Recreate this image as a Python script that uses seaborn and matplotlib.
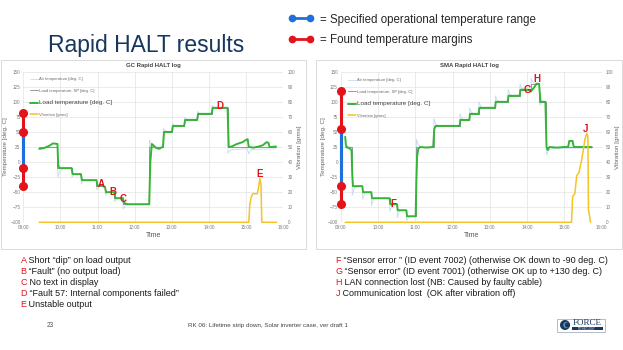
import matplotlib
matplotlib.use("Agg")
import matplotlib.pyplot as plt
import seaborn as sns
from matplotlib.lines import Line2D
from matplotlib.patches import Rectangle, Circle

# ---------------- data ----------------
time_ticks = [0, 1, 2, 3, 4, 5, 6, 7]
time_labels = ["09:00", "10:00", "11:00", "12:00", "13:00", "14:00", "15:00", "16:00"]
temp_ticks = [-100, -75, -50, -25, 0, 25, 50, 75, 100, 125, 150]
vib_ticks = [0, 10, 20, 30, 40, 50, 60, 70, 80, 90, 100]

series_labels = ["Air temperature [deg. C]", "Load temperature, SP [deg. C]",
                 "Load temperature [deg. C]", "Vibration [grms]"]
top_legend_labels = ["= Specified operational temperature range", "= Found temperature margins"]

# GC chart (hours after 09:00)
gc_load_t = [0.43, 0.55, 0.70, 0.80, 0.92, 0.94, 0.97, 1.30, 1.33, 1.55,
             1.58, 1.97, 2.00, 2.10, 2.20, 2.23, 2.45, 2.48, 2.68, 2.71,
             2.82, 3.00, 3.39, 3.42, 3.46, 3.50, 3.56, 3.65, 3.72, 3.76,
             3.79, 4.00, 4.03, 4.33, 4.36, 4.68, 4.71, 5.07, 5.10, 5.50,
             5.53, 5.62, 5.75, 5.90, 6.00, 6.04, 6.07, 6.20, 6.35, 6.45,
             6.55, 6.60, 6.63, 6.70, 6.80]
gc_load = [22, 23, 27, 31, 30, -5, -10, -10, -20, -20,
           -30, -30, -40, -38, -42, -50, -50, -60, -60, -68,
           -70, -70, -70, 0, 30, 28, 24, 22, 24, 25,
           50, 50, 60, 60, 70, 70, 80, 80, 90, 90,
           25, 26, 30, 33, 37, 38, 25, 24, 26, 28,
           33, 32, 25, 25, 26]
gc_sp_t = [0.43, 0.92, 0.92, 1.30, 1.30, 1.55, 1.55, 1.97, 1.97, 2.20, 2.20, 2.45, 2.45, 2.68, 2.68,
           3.39, 3.39, 3.76, 3.76, 4.00, 4.00, 4.33, 4.33, 4.68, 4.68, 5.07, 5.07, 5.50, 5.50, 6.80]
gc_sp = [25, 25, -10, -10, -20, -20, -30, -30, -40, -40, -50, -50, -60, -60, -70,
         -70, 25, 25, 50, 50, 60, 60, 70, 70, 80, 80, 90, 90, 25, 25]
gc_air_t = [0.43, 0.92,
            0.93, 0.98, 1.08, 1.30, 1.31, 1.36, 1.45, 1.55, 1.56, 1.61, 1.70, 1.97,
            1.98, 2.03, 2.12, 2.20, 2.21, 2.26, 2.35, 2.45, 2.46, 2.51, 2.60, 2.68,
            2.69, 2.75, 2.88, 3.39, 3.40, 3.45, 3.55, 3.76, 3.77, 3.82, 3.91, 4.00,
            4.01, 4.06, 4.15, 4.33, 4.34, 4.39, 4.48, 4.68, 4.69, 4.74, 4.83, 5.07,
            5.08, 5.13, 5.22, 5.50, 5.51, 5.58, 5.70, 6.04, 6.06, 6.15, 6.80]
gc_air = [24, 24,
          -25, -15, -11, -10, -25, -21, -20, -20, -36, -31, -30, -30,
          -46, -41, -40, -40, -55, -51, -50, -50, -66, -61, -60, -60,
          -78, -72, -70, -70, 37, 29, 25, 25, 56, 52, 50, 50,
          64, 61, 60, 60, 74, 71, 70, 70, 84, 81, 80, 80,
          94, 91, 90, 90, 15, 20, 21, 22, 14, 21, 22]
gc_vib_t = [0.43, 6.07, 6.10, 6.14, 6.18, 6.30, 6.34, 6.37, 6.40, 6.42, 6.82]
gc_vib = [0, 0, 12, 17, 19, 19, 24, 29, 25, 0, 0]
gc_spec = [-10, 50]
gc_margin = [-40, 82]
gc_temp_note_labels = ["A", "B", "C", "D"]
gc_temp_note_t = [2.11, 2.41, 2.69, 5.30]
gc_temp_note_val = [-37, -49, -61, 93]
gc_vib_note_labels = ["E"]
gc_vib_note_t = [6.37]
gc_vib_note_val = [32]

# SMA chart
sma_load_t = [0.12, 0.14, 0.17, 0.20, 0.25, 0.29, 0.31, 0.33, 0.58, 0.60,
              0.82, 0.84, 1.31, 1.33, 1.51, 1.53, 1.76, 1.78, 2.01, 2.03,
              2.05, 2.08, 2.13, 2.30, 2.48, 2.51, 2.55, 3.19, 3.21, 3.45,
              3.47, 3.70, 3.72, 4.14, 4.16, 4.48, 4.50, 4.80, 4.82, 5.05,
              5.10, 5.20, 5.25, 5.32, 5.36, 5.49, 5.52, 5.55, 5.60, 5.80,
              6.00, 6.10, 6.13, 6.22, 6.25, 6.40, 6.73]
sma_load = [42, 28, 24, 24, 22, 20, -20, -40, -40, -50,
            -50, -60, -60, -70, -70, -80, -80, -90, -90, -30,
            10, 22, 25, 24, 25, 55, 60, 60, 70, 70,
            80, 80, 90, 90, 100, 100, 110, 110, 120, 120,
            117, 125, 130, 130, 100, 100, 25, 20, 25, 24,
            25, 25, 35, 35, 25, 25, 25]
sma_sp_t = [0.12, 0.30, 0.30, 0.58, 0.58, 0.82, 0.82, 1.31, 1.31, 1.51, 1.51, 1.76, 1.76, 2.02, 2.02,
            2.49, 2.49, 3.19, 3.19, 3.45, 3.45, 3.70, 3.70, 4.14, 4.14, 4.48, 4.48, 4.80, 4.80,
            5.10, 5.10, 5.33, 5.33, 5.50, 5.50, 6.73]
sma_sp = [25, 25, -40, -40, -50, -50, -60, -60, -70, -70, -80, -80, -90, -90, 25,
          25, 60, 60, 70, 70, 80, 80, 90, 90, 100, 100, 110, 110, 120,
          120, 130, 130, 100, 100, 25, 25]
sma_air_t = [0.12, 0.30,
             0.31, 0.36, 0.45, 0.58, 0.59, 0.64, 0.72, 0.82, 0.83, 0.88, 0.97, 1.31,
             1.32, 1.37, 1.45, 1.51, 1.52, 1.57, 1.65, 1.76, 1.77, 1.82, 1.91, 2.02,
             2.03, 2.08, 2.17, 2.49, 2.50, 2.55, 2.64, 3.19, 3.20, 3.25, 3.34, 3.45,
             3.46, 3.51, 3.60, 3.70, 3.71, 3.76, 3.85, 4.14, 4.15, 4.20, 4.29, 4.48,
             4.49, 4.54, 4.63, 4.80, 4.81, 4.86, 4.95, 5.10, 5.11, 5.16, 5.25, 5.33,
             5.34, 5.40, 5.50, 5.52, 5.58, 5.70, 6.73]
sma_air = [25, 25,
           -55, -44, -40, -40, -62, -52, -50, -50, -72, -62, -60, -60,
           -82, -72, -70, -70, -92, -82, -80, -80, -97, -92, -90, -90,
           38, 28, 25, 25, 72, 63, 60, 60, 80, 72, 70, 70,
           90, 82, 80, 80, 100, 92, 90, 90, 110, 102, 100, 100,
           120, 112, 110, 110, 130, 122, 120, 120, 138, 132, 130, 130,
           95, 99, 100, 12, 20, 23, 23]
sma_vib_t = [0.12, 6.19, 6.22, 6.28, 6.33, 6.39, 6.46, 6.50, 6.55, 6.60, 6.63, 6.645, 6.67, 6.70]
sma_vib = [0, 0, 17, 19, 31, 33, 41, 47, 55, 59, 57, 8, 5, 0]
sma_spec = [-40, 55]
sma_margin = [-70, 118]
sma_temp_note_labels = ["F", "G", "H"]
sma_temp_note_t = [1.41, 5.00, 5.27]
sma_temp_note_val = [-70, 120, 138]
sma_vib_note_labels = ["J"]
sma_vib_note_t = [6.57]
sma_vib_note_val = [62]

gc_list_keys = ["A", "B", "C", "D", "E"]
gc_list_texts = ["Short \u201cdip\u201d on load output", "\u201cFault\u201d (no output load)",
                 "No text in display", "\u201cFault 57: Internal components failed\u201d",
                 "Unstable output"]
sma_list_keys = ["F", "G", "H", "J"]
sma_list_texts = ["\u201cSensor error \u201d (ID event 7002) (otherwise OK down to -90 deg. C)",
                  "\u201cSensor error\u201d (ID event 7001) (otherwise OK up to +130 deg. C)",
                  "LAN connection lost (NB: Caused by faulty cable)",
                  "Communication lost  (OK after vibration off)"]

# ---------------- style ----------------
sns.set_style("white")
plt.rcParams['font.family'] = ['Liberation Sans', 'DejaVu Sans']

C_AIR = '#c6daf0'
C_SP = '#7d8a99'
C_LOAD = '#35b535'
C_VIB = '#f5c325'
C_RED = '#e3131b'
C_BLUE = '#1f6fdc'
C_NAVY = '#17375e'

W, H = 623, 350
fig = plt.figure(figsize=(W / 100, H / 100), dpi=100)
fig.patch.set_facecolor('white')
bg = fig.add_axes([0, 0, 1, 1], zorder=-5)
bg.set_xlim(0, W)
bg.set_ylim(H, 0)
bg.axis('off')

# panels
bg.add_patch(Rectangle((0.5, 59.5), 305, 189.5, fc='white', ec='#d4d4d4', lw=0.6))
bg.add_patch(Rectangle((316, 59.5), 306, 189.5, fc='white', ec='#d4d4d4', lw=0.6))

# title + top legend
bg.text(47.7, 52, "Rapid HALT results", fontsize=16.5, color=C_NAVY, va='baseline')
tl_handles = [Line2D([], [], color=C_BLUE, lw=2.0, marker='o', ms=4.5),
              Line2D([], [], color=C_RED, lw=2.0, marker='o', ms=4.5)]
fig.legend(tl_handles, top_legend_labels, numpoints=2, loc='upper left',
           bbox_to_anchor=(289 / W, 1 - 13.5 / H), frameon=False, fontsize=8.3,
           handlelength=2.1, handletextpad=0.55, labelspacing=0.72,
           borderpad=0, borderaxespad=0, labelcolor='#262626')


def chart(rect, title_x, title, air_t, air, sp_t, sp, load_t, load, vib_t, vib,
          spec, margin, tnote_l, tnote_t, tnote_v, vnote_l, vnote_t, vnote_v,
          leg_anchor, lp_temp, lp_vib):
    x0, y0, x1, y1 = rect
    ax = fig.add_axes([x0 / W, 1 - y1 / H, (x1 - x0) / W, (y1 - y0) / H])
    ax2 = ax.twinx()
    sns.lineplot(x=air_t, y=air, ax=ax, color=C_AIR, lw=0.6, estimator=None, sort=False, zorder=2)
    sns.lineplot(x=sp_t, y=sp, ax=ax, color=C_SP, lw=0.6, estimator=None, sort=False, zorder=3)
    sns.lineplot(x=load_t, y=load, ax=ax, color=C_LOAD, lw=1.4, estimator=None, sort=False, zorder=4)
    sns.lineplot(x=vib_t, y=vib, ax=ax2, color=C_VIB, lw=1.1, estimator=None, sort=False, zorder=4,
                 clip_on=False)

    ax.set_xlim(time_ticks[0], time_ticks[-1])
    ax.set_xticks(time_ticks)
    ax.set_xticklabels(time_labels)
    ax.set_ylim(temp_ticks[0], temp_ticks[-1])
    ax.set_yticks(temp_ticks)
    ax2.set_ylim(vib_ticks[0], vib_ticks[-1])
    ax2.set_yticks(vib_ticks)
    ax.grid(True, color='#e3e3e3', lw=0.5)
    ax.set_axisbelow(True)
    ax2.grid(False)
    for a in (ax, ax2):
        for s in a.spines.values():
            s.set_visible(False)
    ax.tick_params(axis='x', length=0, labelsize=3.3, labelcolor='#7a7a7a', pad=2.2)
    ax.tick_params(axis='y', length=0, labelsize=3.3, labelcolor='#7a7a7a', pad=2.0)
    ax2.tick_params(axis='y', length=0, labelsize=3.3, labelcolor='#7a7a7a', pad=3.0)
    ax.set_xlabel("Time", fontsize=5, color='#555555', labelpad=1.0)
    ax.set_ylabel("Temperature [deg. C]", fontsize=4.5, color='#666666', labelpad=lp_temp)
    ax2.set_ylabel("Vibration [grms]", fontsize=4.5, color='#666666', labelpad=lp_vib)

    # range bars
    xr = time_ticks[0]
    ax2.plot([xr, xr], [margin[0], margin[1]], color=C_RED, lw=2.2, clip_on=False, zorder=20,
             solid_capstyle='butt', transform=ax.transData)
    ax2.plot([xr, xr], [spec[0], spec[1]], color=C_BLUE, lw=2.2, clip_on=False, zorder=21,
             solid_capstyle='butt', transform=ax.transData)
    ax2.plot([xr] * 4, [margin[0], spec[0], spec[1], margin[1]], 'o', color=C_RED, ms=5.5,
             clip_on=False, zorder=22, transform=ax.transData)

    for lab, t, v in zip(tnote_l, tnote_t, tnote_v):
        ax2.text(t, v, lab, color=C_RED, fontsize=7, fontweight='bold', ha='center', va='center',
                 zorder=30, transform=ax.transData)
    for lab, t, v in zip(vnote_l, vnote_t, vnote_v):
        ax2.text(t, v, lab, color=C_RED, fontsize=7, fontweight='bold', ha='center', va='center', zorder=30)

    handles = [Line2D([], [], color=C_AIR, lw=0.6), Line2D([], [], color=C_SP, lw=0.6),
               Line2D([], [], color=C_LOAD, lw=1.4), Line2D([], [], color=C_VIB, lw=1.1)]
    leg = ax2.legend(handles, series_labels, loc='upper left', bbox_to_anchor=leg_anchor,
                     frameon=False, fontsize=3, borderpad=0, borderaxespad=0,
                     labelspacing=1.8, handlelength=1.8, handletextpad=0.3)
    for i, tx in enumerate(leg.get_texts()):
        tx.set_color('#6a6a6a')
        if i == 2:
            tx.set_fontsize(4.5)
            tx.set_color('#444444')

    bg.text(title_x, 65.5, title, fontsize=4.3, fontweight='bold', color='#444444',
            ha='center', va='center')
    return ax, ax2


chart((23.3, 71.7, 283.3, 222.3), 153, "GC Rapid HALT log",
      gc_air_t, gc_air, gc_sp_t, gc_sp, gc_load_t, gc_load, gc_vib_t, gc_vib,
      gc_spec, gc_margin, gc_temp_note_labels, gc_temp_note_t, gc_temp_note_val,
      gc_vib_note_labels, gc_vib_note_t, gc_vib_note_val, (0.026, 0.962), 1.6, 1.5)
chart((340.7, 71.7, 601.7, 222.3), 469.5, "SMA Rapid HALT log",
      sma_air_t, sma_air, sma_sp_t, sma_sp, sma_load_t, sma_load, sma_vib_t, sma_vib,
      sma_spec, sma_margin, sma_temp_note_labels, sma_temp_note_t, sma_temp_note_val,
      sma_vib_note_labels, sma_vib_note_t, sma_vib_note_val, (0.028, 0.958), 1.4, 1.2)

# notes under the charts: red key letter, then dark text on the same baseline
renderer = fig.canvas.get_renderer()
inv = bg.transData.inverted()


def note_lines(x, keys, texts):
    for i, (k, txt) in enumerate(zip(keys, texts)):
        yb = 263 + 11 * i
        t = bg.text(x, yb, k, color=C_RED, fontsize=6.5, va='baseline')
        bb = t.get_window_extent(renderer=renderer)
        xe = inv.transform((bb.x1, bb.y0))[0]
        bg.text(xe, yb, " " + txt, fontsize=6.5, color='#1a1a1a', va='baseline')


note_lines(20.5, gc_list_keys, gc_list_texts)
note_lines(335.5, sma_list_keys, sma_list_texts)

# footer
bg.text(50.3, 325.7, "23", fontsize=4.7, color='#555555', ha='center', va='center')
bg.text(188, 325.7, "RK 06: Lifetime strip down, Solar inverter case, ver draft 1",
        fontsize=4.5, color='#444444', va='center')

# logo
bg.add_patch(Rectangle((557, 318.5), 48, 13, fc='white', ec='#9aa3ad', lw=0.5))
bg.add_patch(Circle((565, 325), 5.0, fc=C_NAVY, ec='none'))
bg.add_patch(Circle((566.5, 325), 3.2, fc='#6f8fb5', ec='none'))
bg.add_patch(Circle((567.5, 325), 2.6, fc=C_NAVY, ec='none'))
bg.text(587, 323.2, "FORCE", fontsize=6.5, color=C_NAVY, ha='center', va='center',
        family=['Liberation Serif', 'DejaVu Serif'])
bg.add_patch(Rectangle((572, 327), 30.5, 3.3, fc=C_NAVY, ec='none'))
bg.text(587.2, 328.7, "TECHNOLOGY", fontsize=1.8, color='white', ha='center', va='center')

fig.savefig("out.png", dpi=100, facecolor='white')
